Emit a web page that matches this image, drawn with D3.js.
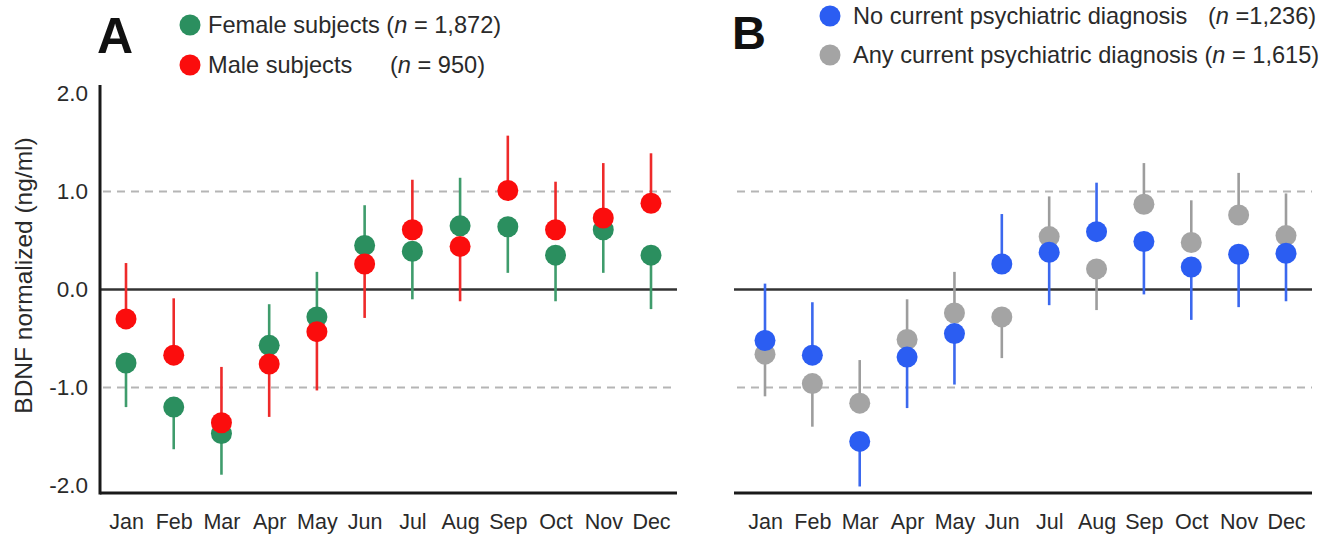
<!DOCTYPE html>
<html>
<head>
<meta charset="utf-8">
<script src="https://cdn.jsdelivr.net/npm/d3@7"></script>
<style>
  html, body { margin: 0; padding: 0; background: #fff; }
  svg { display: block; font-family: "Liberation Sans", Arial, Helvetica, sans-serif; }
</style>
</head>
<body>
<svg id="chart" width="1334" height="535"></svg>
<script>
// ---- data ----
const months = ["Jan","Feb","Mar","Apr","May","Jun","Jul","Aug","Sep","Oct","Nov","Dec"];
const yTicks = [-2, -1, 0, 1, 2];
const refLines = [-1, 1];

// Panel A
const female    = [-0.75,-1.20,-1.47,-0.57,-0.28, 0.45, 0.39, 0.65, 0.64, 0.35, 0.61, 0.35];
const femaleBar = [-1.20,-1.63,-1.89,-0.15, 0.18, 0.86,-0.10, 1.14, 0.17,-0.12, 0.17,-0.20];
const male      = [-0.30,-0.67,-1.36,-0.76,-0.43, 0.26, 0.61, 0.44, 1.01, 0.61, 0.73, 0.88];
const maleBar   = [ 0.27,-0.09,-0.79,-1.30,-1.03,-0.29, 1.12,-0.12, 1.57, 1.10, 1.29, 1.39];

// Panel B
const anyDx     = [-0.66,-0.96,-1.16,-0.51,-0.24,-0.28, 0.54, 0.21, 0.87, 0.48, 0.76, 0.55];
const anyDxBar  = [-1.09,-1.40,-0.72,-0.10, 0.18,-0.70, 0.95,-0.21, 1.29, 0.91, 1.19, 0.98];
const noDx      = [-0.52,-0.67,-1.55,-0.69,-0.45, 0.26, 0.38, 0.59, 0.49, 0.23, 0.36, 0.37];
const noDxBar   = [ 0.06,-0.13,-2.01,-1.21,-0.97, 0.77,-0.16, 1.09,-0.05,-0.31,-0.18,-0.12];

const GREEN = "#2b8f5f", GREEN_L = "#3f9c6c";
const RED = "#fb0d0d",   RED_L = "#ee2a2a";
const BLUE = "#2b5df2",  BLUE_L = "#3b68ee";
const GREY = "#a4a4a4",  GREY_L = "#9d9d9d";

const svg = d3.select("#chart");

const y = d3.scaleLinear().domain([-2, 2]).range([485.5, 93.5]);

function panel(opts) {
  const g = svg.append("g");
  const x = d3.scalePoint().domain(months).range([opts.xFirst, opts.xLast]);

  // dashed reference lines
  g.selectAll("line.ref").data(refLines).join("line")
    .attr("x1", opts.left + 3).attr("x2", opts.right)
    .attr("y1", d => y(d)).attr("y2", d => y(d))
    .attr("stroke", "#b5b5b5").attr("stroke-width", 2)
    .attr("stroke-dasharray", "8,6");

  // zero line
  g.append("line")
    .attr("x1", opts.left).attr("x2", opts.right)
    .attr("y1", y(0)).attr("y2", y(0))
    .attr("stroke", "#333").attr("stroke-width", 2.5);

  // bottom axis
  const xAxis = g.append("g").attr("transform", "translate(0,493)")
    .call(d3.axisBottom(x).tickSize(0).tickPadding(21));
  xAxis.select(".domain").remove();
  xAxis.selectAll("text").attr("font-size", 21.5).attr("fill", "#2a2a2a")
    .attr("font-family", "Liberation Sans, Arial, sans-serif");
  g.append("line")
    .attr("x1", opts.left).attr("x2", opts.right)
    .attr("y1", 493).attr("y2", 493)
    .attr("stroke", "#1a1a1a").attr("stroke-width", 3);

  if (opts.showY) {
    const yAxis = g.append("g").attr("transform", `translate(${opts.left},0)`)
      .call(d3.axisLeft(y).tickValues(yTicks).tickSize(0).tickPadding(12)
        .tickFormat(d => d.toFixed(1)));
    yAxis.select(".domain").remove();
    yAxis.selectAll("text").attr("font-size", 22.5).attr("fill", "#2a2a2a")
      .attr("font-family", "Liberation Sans, Arial, sans-serif");
    g.append("line")
      .attr("x1", opts.left).attr("x2", opts.left)
      .attr("y1", 85).attr("y2", 494.5)
      .attr("stroke", "#1a1a1a").attr("stroke-width", 3);
    g.append("text")
      .attr("transform", `translate(32,275.5) rotate(-90)`)
      .attr("text-anchor", "middle")
      .attr("font-size", 24.5).attr("fill", "#2a2a2a")
      .text("BDNF normalized (ng/ml)");
  }

  // error bars then dots
  opts.series.forEach(s => {
    g.append("g").selectAll("line").data(months).join("line")
      .attr("x1", d => x(d)).attr("x2", d => x(d))
      .attr("y1", (d, i) => y(s.values[i]))
      .attr("y2", (d, i) => y(s.bars[i]))
      .attr("stroke", s.line).attr("stroke-width", 2.6);
  });
  opts.series.forEach(s => {
    g.append("g").selectAll("circle").data(months).join("circle")
      .attr("cx", d => x(d))
      .attr("cy", (d, i) => y(s.values[i]))
      .attr("r", 10.5)
      .attr("fill", s.color);
  });
}

panel({
  left: 100, right: 677, xFirst: 126, xLast: 651, showY: true,
  series: [
    { values: female, bars: femaleBar, color: GREEN, line: GREEN_L },
    { values: male, bars: maleBar, color: RED, line: RED_L }
  ]
});

panel({
  left: 734, right: 1312, xFirst: 765, xLast: 1286, showY: false,
  series: [
    { values: anyDx, bars: anyDxBar, color: GREY, line: GREY_L },
    { values: noDx, bars: noDxBar, color: BLUE, line: BLUE_L }
  ]
});

// panel letters
svg.append("text").attr("x", 97).attr("y", 53)
  .attr("font-size", 50).attr("font-weight", "bold").attr("fill", "#111").text("A");
svg.append("text").attr("x", 732).attr("y", 49)
  .attr("font-size", 47).attr("font-weight", "bold").attr("fill", "#111").text("B");

// legends
function legendItem(cx, cy, color, parts) {
  svg.append("circle").attr("cx", cx).attr("cy", cy).attr("r", 10.5).attr("fill", color);
  const t = svg.append("text").attr("y", cy + 8).attr("font-size", 23.6).attr("fill", "#2a2a2a");
  parts.forEach(p => {
    const ts = t.append("tspan").text(p.t);
    if (p.x !== undefined) ts.attr("x", p.x);
    if (p.i) ts.attr("font-style", "italic");
  });
}

legendItem(190, 25, GREEN, [
  { t: "Female subjects (", x: 208 }, { t: "n", i: true }, { t: " = 1,872)" }
]);
legendItem(190, 65, RED, [
  { t: "Male subjects", x: 208 }, { t: "(", x: 390 }, { t: "n", i: true }, { t: " = 950)" }
]);
legendItem(830, 16, BLUE, [
  { t: "No current psychiatric diagnosis", x: 853 }, { t: "(", x: 1208 }, { t: "n", i: true }, { t: " =1,236)" }
]);
legendItem(830, 55, GREY, [
  { t: "Any current psychiatric diagnosis (", x: 853 }, { t: "n", i: true }, { t: " = 1,615)" }
]);
</script>
</body>
</html>
